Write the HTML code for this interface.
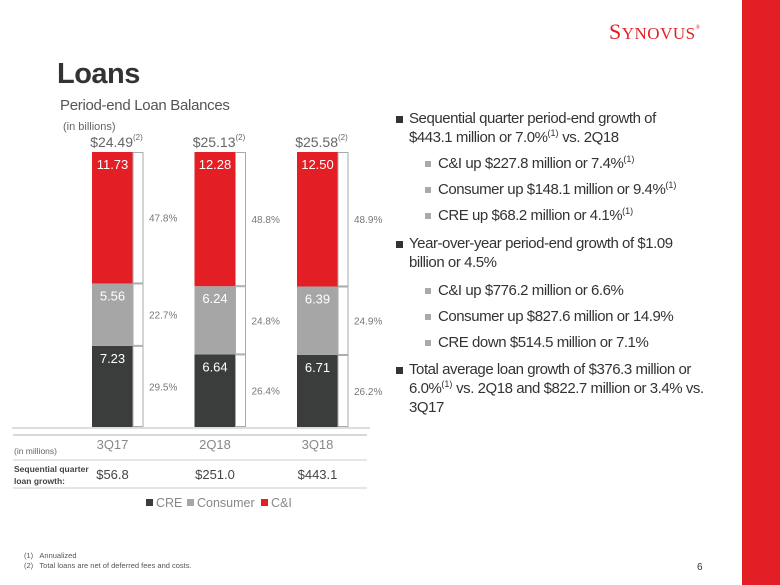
<!DOCTYPE html>
<html><head><meta charset="utf-8"><style>
body{margin:0;width:780px;height:585px;position:relative;background:#fff;font-family:"Liberation Sans",sans-serif;overflow:hidden}
.a{position:absolute;white-space:nowrap}
.b{color:#333;font-size:15px;letter-spacing:-0.45px;line-height:19px}
.sq{position:absolute;width:7px;height:7px;background:#333}
.ss{position:absolute;width:6px;height:6px;background:#aaa}
sup{font-size:9px;vertical-align:6px;line-height:0;letter-spacing:0}
</style></head><body>
<div class="a" style="left:742px;top:0;width:38px;height:585px;background:#e31e25"></div>
<div class="a" style="left:609px;top:19px;color:#e31e25;font-family:'Liberation Serif',serif;font-size:22px;letter-spacing:0.5px">S<span style="font-size:17px">YNOVUS</span><span style="font-size:6px;vertical-align:10px">®</span></div>
<div class="a" style="left:57px;top:58px;font-size:29px;font-weight:bold;color:#333;letter-spacing:-0.5px">Loans</div>
<div class="a" style="left:60px;top:97px;font-size:15px;letter-spacing:-0.3px;color:#555">Period-end Loan Balances</div>
<div class="a" style="left:63px;top:121px;font-size:11px;color:#666">(in billions)</div>
<svg id="chart" class="a" style="left:0;top:0" width="400" height="530"></svg>
<div class="a">
<div class="sq" style="left:396px;top:116px"></div><div class="a b" style="left:409px;top:109px">Sequential quarter period-end growth of<br>$443.1 million or 7.0%<sup>(1)</sup> vs. 2Q18</div>
<div class="ss" style="left:425px;top:161px"></div><div class="a b" style="left:438px;top:154px">C&amp;I up $227.8 million or 7.4%<sup>(1)</sup></div>
<div class="ss" style="left:425px;top:187px"></div><div class="a b" style="left:438px;top:180px">Consumer up $148.1 million or 9.4%<sup>(1)</sup></div>
<div class="ss" style="left:425px;top:213px"></div><div class="a b" style="left:438px;top:206px">CRE up $68.2 million or 4.1%<sup>(1)</sup></div>
<div class="sq" style="left:396px;top:241px"></div><div class="a b" style="left:409px;top:234px">Year-over-year period-end growth of $1.09<br>billion or 4.5%</div>
<div class="ss" style="left:425px;top:288px"></div><div class="a b" style="left:438px;top:281px">C&amp;I up $776.2 million or 6.6%</div>
<div class="ss" style="left:425px;top:314px"></div><div class="a b" style="left:438px;top:307px">Consumer up $827.6 million or 14.9%</div>
<div class="ss" style="left:425px;top:340px"></div><div class="a b" style="left:438px;top:333px">CRE down $514.5 million or 7.1%</div>
<div class="sq" style="left:396px;top:367px"></div><div class="a b" style="left:409px;top:360px">Total average loan growth of $376.3 million or<br>6.0%<sup>(1)</sup> vs. 2Q18 and $822.7 million or 3.4% vs.<br>3Q17</div>
</div>
<div class="a" style="left:24px;top:551px;font-size:7.5px;color:#555">(1)&nbsp;&nbsp;&nbsp;Annualized</div>
<div class="a" style="left:24px;top:561px;font-size:7.5px;color:#555">(2)&nbsp;&nbsp;&nbsp;Total loans are net of deferred fees and costs.</div>
<div class="a" style="left:697px;top:562px;font-size:10px;color:#333">6</div>
<script>
const quarters=["3Q17","2Q18","3Q18"];
const totals=["$24.49","$25.13","$25.58"];
const cre=[7.23,6.64,6.71];
const consumer=[5.56,6.24,6.39];
const cni=[11.73,12.28,12.50];
const crePct=[29.5,26.4,26.2];
const conPct=[22.7,24.8,24.9];
const cniPct=[47.8,48.8,48.9];
const growth=["$56.8","$251.0","$443.1"];
const NS="http://www.w3.org/2000/svg";
const svg=document.getElementById('chart');
function mk(t,a,txt,p){const e=document.createElementNS(NS,t);for(const k in a)e.setAttribute(k,a[k]);if(txt!=null)e.textContent=txt;(p||svg).appendChild(e);return e;}
const base=427,H=275;
const y=v=>base-v/100*H;
const xc=i=>92+i*102.5;
const bw=41;
const series=[[cre,crePct,"#3b3c3c","cre"],[consumer,conPct,"#a6a6a6","consumer"],[cni,cniPct,"#e31e25","cni"]];
quarters.forEach((q,i)=>{
  let cum=0;const x=xc(i);
  series.forEach(([vals,pcts,col,nm])=>{
    const y0=y(cum),y1=y(cum+pcts[i]);
    let r=mk('rect',{x:x,y:y1,width:bw,height:y0-y1,fill:col});
    
    
    r=mk('rect',{x:x+bw,y:y1+0.5,width:10,height:y0-y1-1,fill:'#fff',stroke:'#aaa','stroke-width':1});
    
    
    let t=mk('text',{x:x+bw/2,y:y1+17,'text-anchor':'middle','font-size':13,fill:'#fff'},vals[i].toFixed(2));
    
    
    t=mk('text',{x:x+bw+16,y:(y0+y1)/2+4,'font-size':10,fill:'#777'},pcts[i].toFixed(1)+'%');
    
    
    cum+=pcts[i];
  });
  const top=y(cum);
  let t=mk('text',{x:x+bw/2+4,y:top-5,'text-anchor':'middle','font-size':14,fill:'#666'},totals[i]);
  
  
  const sp=mk('tspan',{'font-size':8,dy:-7},'(2)',t);
  t=mk('text',{x:x+bw/2,y:449,'text-anchor':'middle','font-size':13,fill:'#888'},q);
  
  
  t=mk('text',{x:x+bw/2,y:479,'text-anchor':'middle','font-size':13,fill:'#444'},growth[i]);
  
  
});
mk('line',{x1:12,x2:370,y1:428,y2:428,stroke:'#bbb','stroke-width':1});
mk('line',{x1:13,x2:367,y1:435,y2:435,stroke:'#ccc','stroke-width':1.5});
mk('line',{x1:13,x2:367,y1:460,y2:460,stroke:'#ccc','stroke-width':1});
mk('line',{x1:13,x2:367,y1:488,y2:488,stroke:'#ccc','stroke-width':1});
mk('text',{x:14,y:454,'font-size':8.5,fill:'#666'},'(in millions)');
mk('text',{x:14,y:472,'font-size':8.5,'font-weight':'bold',fill:'#444'},'Sequential quarter');
mk('text',{x:14,y:484,'font-size':8.5,'font-weight':'bold',fill:'#444'},'loan growth:');
const leg=[["CRE","#3b3c3c",146],["Consumer","#a6a6a6",187],["C&I","#e31e25",261]];
leg.forEach(([n,c,x])=>{
  const r=mk('rect',{x:x,y:499,width:7,height:7,fill:c});
  
  
  const t=mk('text',{x:x+10,y:507,'font-size':12.5,fill:'#888'},n);
  
  
});
</script>
</body></html>
